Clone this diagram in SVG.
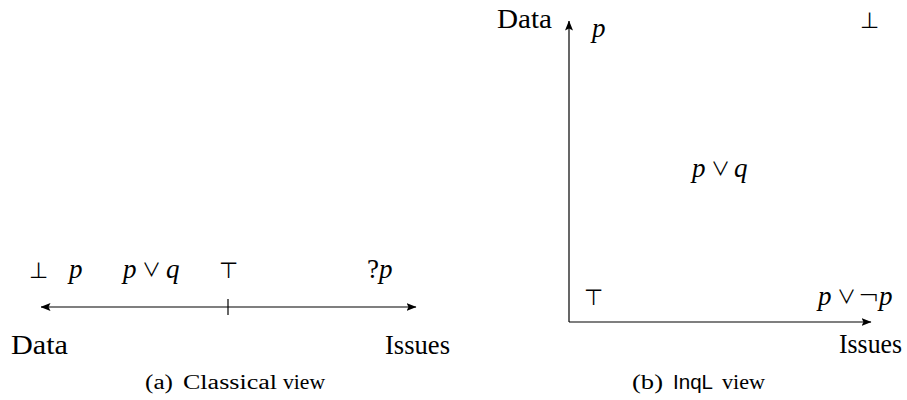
<svg xmlns="http://www.w3.org/2000/svg" width="907" height="400" viewBox="0 0 907 400">
  <style>
    .lbl { font-family: "Liberation Serif", "DejaVu Serif", serif; font-size: 27px; fill: #000; }
    .math { font-family: "Liberation Serif", "DejaVu Serif", serif; font-size: 27px; fill: #000; }
    .it { font-style: italic; }
    .sym { font-family: "DejaVu Sans", "Liberation Serif", serif; font-weight: 200; font-size: 22px; fill: #000; }
    .op { font-family: "Noto Sans CJK JP", "DejaVu Sans", serif; font-size: 19px; fill: #000; }
    .neg { font-family: "DejaVu Sans", serif; font-weight: 200; font-size: 26px; fill: #000; }
    .cap { font-family: "Liberation Serif", "DejaVu Serif", serif; font-size: 20px; fill: #000; }
    .sans { font-family: "Liberation Sans", "DejaVu Sans", sans-serif; }
    .axis { stroke: #000; stroke-width: 1.2; fill: none; }
  </style>
  <defs>
    <marker id="arr" viewBox="0 0 10 8" refX="9.5" refY="4" markerWidth="10" markerHeight="8" markerUnits="userSpaceOnUse" orient="auto-start-reverse">
      <path d="M0,0 L10,4 L0,8 L2,4 Z" fill="#000"/>
    </marker>
  </defs>

  <g id="connectors">
    <line class="axis" x1="41" y1="307" x2="416" y2="307" marker-start="url(#arr)" marker-end="url(#arr)"/>
    <line class="axis" x1="228" y1="299" x2="228" y2="315"/>
    <line class="axis" x1="569" y1="322" x2="569" y2="21" marker-end="url(#arr)"/>
    <line class="axis" x1="569" y1="322" x2="871" y2="322" marker-end="url(#arr)"/>
  </g>

  <!-- Classical view -->
  <g id="a-bot"><text class="sym" x="29" y="278">⊥</text></g>
  <g id="a-p"><text class="math it" x="69" y="278">p</text></g>
  <g id="a-porq">
    <text class="math it" x="123" y="278">p</text>
    <text class="op" x="142" y="277">∨</text>
    <text class="math it" x="166" y="278">q</text>
  </g>
  <g id="a-top"><text class="sym" x="219" y="278">⊤</text></g>
  <g id="a-qp">
    <text class="math" x="367" y="278">?</text>
    <text class="math it" x="379" y="278">p</text>
  </g>
  <g id="a-data"><text class="lbl" x="11" y="354" textLength="57" lengthAdjust="spacingAndGlyphs">Data</text></g>
  <g id="a-issues"><text class="lbl" x="385" y="354" textLength="65" lengthAdjust="spacingAndGlyphs">Issues</text></g>
  <g id="cap-a">
    <text class="cap" x="145" y="389" textLength="28" lengthAdjust="spacingAndGlyphs">(a)</text>
    <text class="cap" x="183" y="389" textLength="94" lengthAdjust="spacingAndGlyphs">Classical</text>
    <text class="cap" x="283" y="389" textLength="42" lengthAdjust="spacingAndGlyphs">view</text>
  </g>

  <!-- InqL view -->
  <g id="b-data"><text class="lbl" x="497" y="28" textLength="55" lengthAdjust="spacingAndGlyphs">Data</text></g>
  <g id="b-p"><text class="math it" x="592" y="37">p</text></g>
  <g id="b-bot"><text class="sym" x="860" y="28">⊥</text></g>
  <g id="b-porq">
    <text class="math it" x="692" y="177">p</text>
    <text class="op" x="711" y="176">∨</text>
    <text class="math it" x="734" y="177">q</text>
  </g>
  <g id="b-top"><text class="sym" x="584" y="305">⊤</text></g>
  <g id="b-pornotp">
    <text class="math it" x="818" y="305">p</text>
    <text class="op" x="837" y="304">∨</text>
    <text class="neg" x="858" y="305">¬</text>
    <text class="math it" x="879" y="305">p</text>
  </g>
  <g id="b-issues"><text class="lbl" x="839" y="353" textLength="63" lengthAdjust="spacingAndGlyphs">Issues</text></g>
  <g id="cap-b">
    <text class="cap" x="632" y="389" textLength="31" lengthAdjust="spacingAndGlyphs">(b)</text>
    <text class="cap sans" x="673" y="389" textLength="40" lengthAdjust="spacingAndGlyphs">InqL</text>
    <text class="cap" x="722" y="389" textLength="43" lengthAdjust="spacingAndGlyphs">view</text>
  </g>
</svg>
